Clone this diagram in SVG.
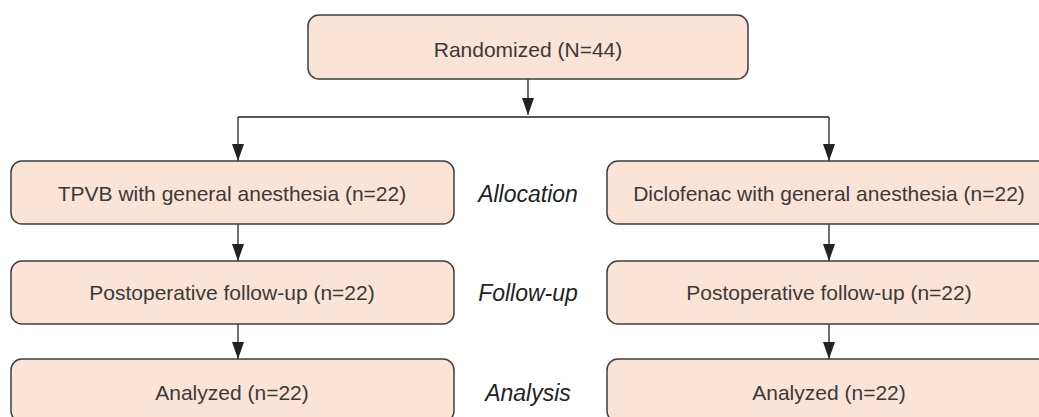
<svg xmlns="http://www.w3.org/2000/svg" width="1039" height="417" viewBox="0 0 1039 417">
<style>
.box{fill:#fbe3d6;stroke:#3f3f3f;stroke-width:1.5}
.t{font-family:"Liberation Sans",Arial,sans-serif;font-size:21px;fill:#3a3a3a;text-anchor:middle}
.lab{font-family:"Liberation Sans",Arial,sans-serif;font-size:23px;font-style:italic;fill:#222;text-anchor:middle}
.c{fill:none;stroke:#222;stroke-width:1.3}
</style>
<defs>
<marker id="ah" markerUnits="userSpaceOnUse" markerWidth="17" markerHeight="12" refX="17" refY="6" orient="auto" viewBox="0 0 17 12">
<path d="M0,0 L17,6 L0,12 Z" fill="#222"/>
</marker>
</defs>
<rect width="1039" height="417" fill="#fff"/>
<g id="connectors">
<path class="c" d="M528,79 V115" marker-end="url(#ah)"/>
<path class="c" d="M238,117 H829"/>
<path class="c" d="M238,117 V161" marker-end="url(#ah)"/>
<path class="c" d="M829,117 V161" marker-end="url(#ah)"/>
<path class="c" d="M238,224 V261" marker-end="url(#ah)"/>
<path class="c" d="M829,224 V261" marker-end="url(#ah)"/>
<path class="c" d="M238,324 V359" marker-end="url(#ah)"/>
<path class="c" d="M829,324 V359" marker-end="url(#ah)"/>
</g>
<g id="randomized">
<rect class="box" x="308" y="15" width="440" height="64" rx="11"/>
<text class="t" x="528" y="57">Randomized (N=44)</text>
</g>
<g id="tpvb">
<rect class="box" x="11" y="161" width="443" height="63" rx="11"/>
<text class="t" x="232" y="201">TPVB with general anesthesia (n=22)</text>
</g>
<g id="diclofenac">
<rect class="box" x="607" y="161" width="444" height="63" rx="11"/>
<text class="t" x="829" y="201">Diclofenac with general anesthesia (n=22)</text>
</g>
<g id="followup-left">
<rect class="box" x="11" y="261" width="443" height="63" rx="11"/>
<text class="t" x="232" y="300">Postoperative follow-up (n=22)</text>
</g>
<g id="followup-right">
<rect class="box" x="607" y="261" width="444" height="63" rx="11"/>
<text class="t" x="829" y="300">Postoperative follow-up (n=22)</text>
</g>
<g id="analyzed-left">
<rect class="box" x="11" y="359" width="443" height="63" rx="11"/>
<text class="t" x="232" y="400">Analyzed (n=22)</text>
</g>
<g id="analyzed-right">
<rect class="box" x="607" y="359" width="444" height="63" rx="11"/>
<text class="t" x="829" y="400">Analyzed (n=22)</text>
</g>
<g id="stage-labels">
<text class="lab" x="528" y="202">Allocation</text>
<text class="lab" x="528" y="301">Follow-up</text>
<text class="lab" x="528" y="401">Analysis</text>
</g>
</svg>
